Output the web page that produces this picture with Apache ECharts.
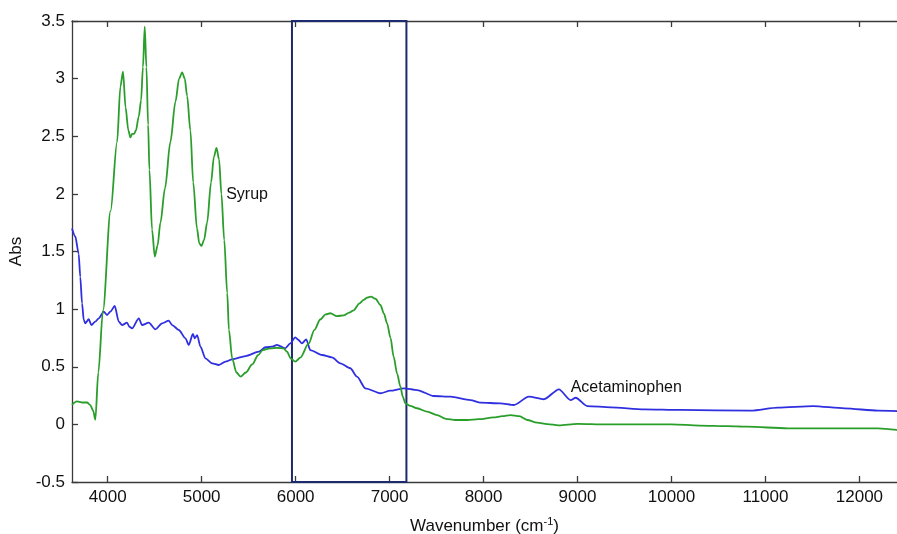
<!DOCTYPE html>
<html>
<head>
<meta charset="utf-8">
<script src="https://cdn.jsdelivr.net/npm/echarts@6/dist/echarts.min.js"></script>
<style>
html,body{margin:0;padding:0;background:#fff;}
#chart{width:897px;height:534px;}
</style>
</head>
<body>
<div id="chart"></div>
<script>
// ---- Data ----
const syrupX = [3620,3673,3730,3780,3812,3845,3868,3900,3950,4030,4100,4135,4163,4190,4220,4241,4260,4280,4300,4330,4355,4375,4394,4412,4430,4444,4472,4501,4530,4561,4610,4667,4721,4760,4792,4820,4845,4880,4910,4950,4975,4998,5025,5058,5100,5130,5158,5185,5210,5240,5272,5290,5325,5370,5413,5470,5538,5600,5650,5730,5800,5871,5908,5950,5996,6050,6138,6200,6262,6320,6369,6440,6511,6570,6617,6680,6724,6760,6802,6850,6902,6940,6973,7010,7043,7080,7115,7140,7168,7220,7293,7400,7506,7600,7700,7826,7950,8109,8200,8287,8380,8465,8570,8678,8800,9000,9300,9672,10000,10300,10600,10800,11238,11700,12197,12410];
const syrupY = [0.17,0.20,0.19,0.19,0.17,0.12,0.04,0.45,0.99,1.85,2.45,2.93,3.06,2.75,2.55,2.49,2.52,2.52,2.55,2.67,2.81,3.10,3.45,3.10,2.60,2.21,1.69,1.455,1.55,1.75,2.05,2.45,2.80,3.00,3.055,3.00,2.85,2.55,2.10,1.70,1.57,1.548,1.60,1.75,2.10,2.32,2.40,2.30,2.00,1.60,1.14,0.82,0.57,0.45,0.414,0.45,0.52,0.60,0.645,0.66,0.665,0.66,0.63,0.57,0.544,0.58,0.70,0.82,0.91,0.955,0.964,0.94,0.945,0.97,0.99,1.05,1.08,1.10,1.108,1.09,1.036,0.96,0.877,0.75,0.587,0.44,0.327,0.24,0.183,0.16,0.14,0.11,0.081,0.048,0.038,0.038,0.045,0.06,0.072,0.081,0.072,0.038,0.015,0.003,-0.008,0.005,0.0,0.0,0.0,-0.01,-0.015,-0.02,-0.034,-0.034,-0.034,-0.049];

const acetX = [3620,3655,3691,3708,3727,3745,3762,3798,3826,3868,3904,3958,3993,4028,4075,4118,4153,4206,4231,4259,4331,4366,4437,4508,4579,4650,4686,4757,4827,4863,4906,4927,4952,4987,5040,5112,5183,5253,5325,5466,5609,5680,5751,5801,5890,5943,5996,6031,6067,6113,6156,6281,6387,6476,6582,6653,6742,6902,7008,7150,7293,7470,7648,7861,7967,8180,8322,8482,8642,8802,8926,8980,9104,9352,9707,10098,10847,11132,11505,11842,12197,12410];
const acetY = [1.70,1.63,1.48,1.28,1.05,0.906,0.877,0.912,0.862,0.891,0.92,0.978,0.949,0.978,1.027,0.891,0.862,0.882,0.847,0.833,0.92,0.862,0.882,0.825,0.877,0.90,0.862,0.819,0.747,0.689,0.784,0.747,0.775,0.674,0.573,0.53,0.515,0.544,0.564,0.593,0.631,0.669,0.674,0.689,0.66,0.703,0.755,0.732,0.703,0.738,0.645,0.602,0.582,0.53,0.487,0.414,0.313,0.27,0.292,0.313,0.298,0.246,0.24,0.211,0.188,0.183,0.168,0.24,0.218,0.304,0.211,0.231,0.159,0.148,0.131,0.125,0.119,0.145,0.159,0.139,0.119,0.115];

const xTicks = [4000,5000,6000,7000,8000,9000,10000,11000,12000];
const xRange = [3620, 12400];
const yRange = [-0.5, 3.5];
const yStep = 0.5;
const boxX = [5961, 7179];
const labelNames = ['Syrup', 'Acetaminophen'];
const labelX = [5261, 8927];
const labelY = [1.99, 0.316];

// ---- Chart ----
const pair = (xs, ys) => xs.map((x, i) => [x, ys[i]]);
const FONT = '"Liberation Sans", Arial, sans-serif';
const axisCol = '#3a3a3a';

const chart = echarts.init(document.getElementById('chart'), null, {renderer: 'canvas'});
chart.setOption({
  animation: false,
  backgroundColor: '#ffffff',
  grid: {left: 72, right: 0, top: 21, bottom: 52, containLabel: false, outerBoundsMode: 'none'},
  xAxis: [{
    type: 'value', min: xRange[0], max: xRange[1], position: 'bottom',
    name: 'Wavenumber (cm{sup|-1})', nameLocation: 'middle', nameGap: 34,
    nameTextStyle: {color: '#111', fontSize: 17, fontFamily: FONT,
      rich: {sup: {fontSize: 11, fontFamily: FONT, color: '#111', padding: [0, 0, 9, 0]}}},
    axisLine: {show: true, onZero: false, lineStyle: {color: axisCol, width: 1.3}},
    axisTick: {show: true, inside: true, length: 6, customValues: xTicks, lineStyle: {color: axisCol, width: 1.3}},
    axisLabel: {show: true, customValues: xTicks, margin: 7, color: '#111', fontSize: 17, fontFamily: FONT,
      formatter: v => String(Math.round(v))},
    splitLine: {show: false}
  }, {
    type: 'value', min: xRange[0], max: xRange[1], position: 'top',
    axisLine: {show: true, onZero: false, lineStyle: {color: axisCol, width: 1.3}},
    axisTick: {show: true, inside: true, length: 6, customValues: xTicks, lineStyle: {color: axisCol, width: 1.3}},
    axisLabel: {show: false},
    splitLine: {show: false}
  }],
  yAxis: {
    type: 'value', min: yRange[0], max: yRange[1], interval: yStep,
    name: 'Abs', nameLocation: 'middle', nameGap: 36, nameRotate: 90,
    nameTextStyle: {color: '#111', fontSize: 17, fontFamily: FONT},
    axisLine: {show: true, onZero: false, lineStyle: {color: axisCol, width: 1.3}},
    axisTick: {show: true, inside: true, length: 6, lineStyle: {color: axisCol, width: 1.3}},
    axisLabel: {show: true, margin: 7, color: '#111', fontSize: 17, fontFamily: FONT},
    splitLine: {show: false}
  },
  series: [{
    name: 'Acetaminophen', type: 'line', xAxisIndex: 0, data: pair(acetX, acetY),
    showSymbol: false, smooth: 0.25, smoothMonotone: 'x',
    lineStyle: {color: '#2f2fe0', width: 1.8},
    markPoint: {
      symbol: 'circle', symbolSize: 0,
      data: [{coord: [labelX[1], labelY[1]], value: labelNames[1]}],
      label: {show: true, position: 'right', distance: 0, formatter: labelNames[1],
        color: '#111', fontSize: 16, fontFamily: FONT}
    }
  }, {
    name: 'Syrup', type: 'line', xAxisIndex: 0, data: pair(syrupX, syrupY),
    showSymbol: false, smooth: 0.3, smoothMonotone: 'x',
    lineStyle: {color: '#2a9e2a', width: 1.8},
    markPoint: {
      symbol: 'circle', symbolSize: 0,
      data: [{coord: [labelX[0], labelY[0]], value: labelNames[0]}],
      label: {show: true, position: 'right', distance: 0, formatter: labelNames[0],
        color: '#111', fontSize: 16, fontFamily: FONT}
    },
    markArea: {
      silent: true,
      itemStyle: {color: 'rgba(0,0,0,0)', borderColor: '#1c2a6e', borderWidth: 2},
      data: [[{xAxis: boxX[0], yAxis: yRange[0]}, {xAxis: boxX[1], yAxis: yRange[1]}]]
    }
  }]
});
</script>
</body>
</html>
